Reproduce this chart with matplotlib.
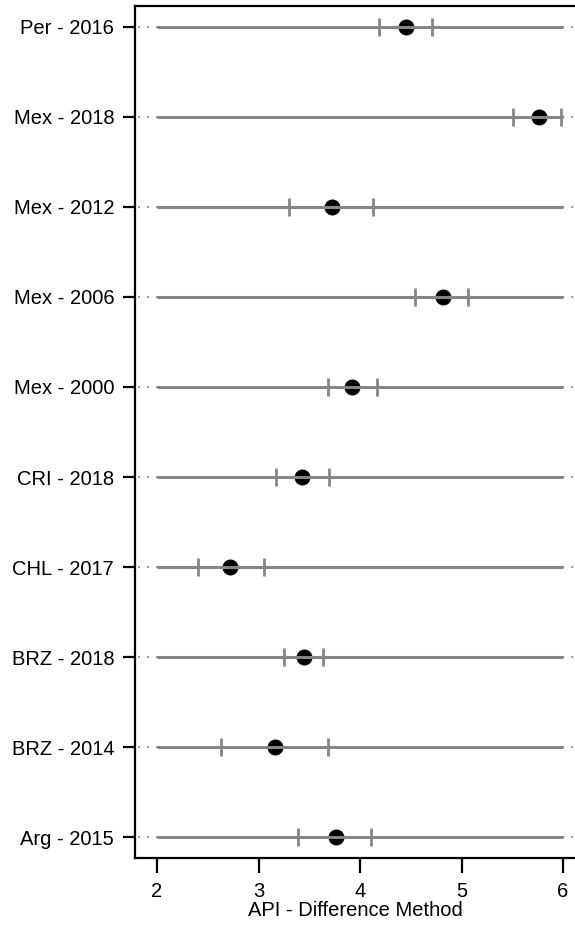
import matplotlib
matplotlib.use("Agg")
import matplotlib.pyplot as plt

plt.rcParams['font.family'] = ['Liberation Sans', 'DejaVu Sans']

labels = ["Arg - 2015", "BRZ - 2014", "BRZ - 2018", "CHL - 2017", "CRI - 2018",
          "Mex - 2000", "Mex - 2006", "Mex - 2012", "Mex - 2018", "Per - 2016"]
api = [3.76, 3.16, 3.45, 2.72, 3.43, 3.92, 4.82, 3.72, 5.76, 4.45]
ci_low = [3.39, 2.63, 3.25, 2.40, 3.17, 3.68, 4.54, 3.30, 5.51, 4.19]
ci_high = [4.11, 3.68, 3.64, 3.05, 3.69, 4.17, 5.06, 4.13, 5.98, 4.71]
xticks = [2, 3, 4, 5, 6]

gray = "#858585"
fig = plt.figure(figsize=(5.75, 9.25), dpi=100)
ax = fig.add_axes([135 / 575, 67 / 925, 440 / 575, 852 / 925])
x0, x1 = 1.783, 1.783 + 440 / 101.5

for i in range(len(labels)):
    y = i + 1
    ax.plot([x0 + 0.03, x1], [y, y], color=gray, lw=1.3, ls=(0, (1, 4)), zorder=1)
    ax.scatter(api[i], y, s=110, color="black", zorder=2)
    ax.plot([2, 6], [y, y], color=gray, lw=2.2, solid_capstyle="butt", zorder=3)
    ax.plot([ci_low[i], ci_high[i]], [y, y], ls="none", marker="|", ms=13,
            mew=2, color=gray, zorder=3)

ax.set_xlim(x0, x1)
ax.set_ylim(0.767, 10.233)
ax.set_yticks(range(1, len(labels) + 1))
ax.set_yticklabels(labels)
ax.set_xticks(xticks)
ax.set_xlabel("API - Difference Method", fontsize=14.5, labelpad=0)
ax.tick_params(axis="both", labelsize=14.5, width=1.6, color="black")
ax.tick_params(axis="y", length=9, pad=6)
ax.tick_params(axis="x", length=11, pad=6)
ax.spines["right"].set_visible(False)
for s in ["left", "bottom", "top"]:
    ax.spines[s].set_linewidth(1.6)

fig.savefig("out.png", dpi=100)
